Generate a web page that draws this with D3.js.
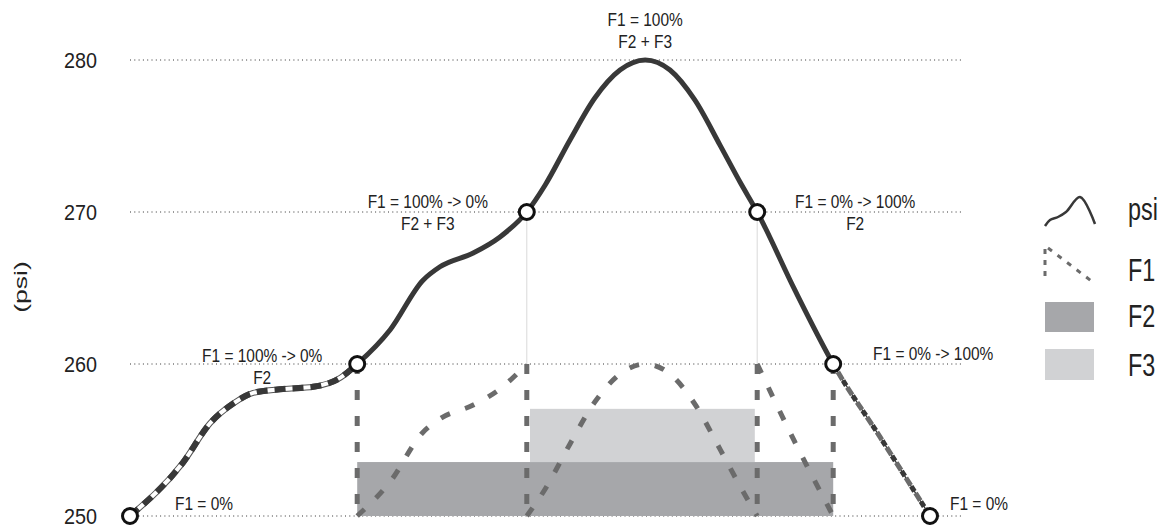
<!DOCTYPE html>
<html>
<head>
<meta charset="utf-8">
<script src="https://cdn.jsdelivr.net/npm/d3@7"></script>
<style>
  body { margin: 0; background: #fff; }
  svg { display: block; font-family: "Liberation Sans", Arial, sans-serif; }
</style>
</head>
<body>
<div id="chart"></div>
<script>
// pressure trace (psi), x in time units
const psiX = [0, 0.66, 1.0, 1.29, 1.54, 1.91, 2.29, 2.63, 2.84, 3.25, 3.66, 3.875, 4.29, 4.625, 4.96,
              5.19, 5.5, 5.81, 6.125, 6.44, 6.75, 7.06, 7.375, 7.625, 7.84, 8.31, 8.79, 9.375, 10];
const psiY = [250, 253.5, 256.1, 257.4, 258.1, 258.35, 258.5, 259.1, 260, 262.24, 265.5, 266.4, 267.3, 268.36, 270,
              271.78, 274.74, 277.5, 279.34, 280, 279.34, 277.37, 274.4, 271.97, 270, 264.87, 260, 255.2, 250];

// switching points (markers) and F1 offset below psi between them
const stageX = [0, 2.84, 4.96, 7.84, 8.79, 10];
const f1Offset = [0, 10, 20, 10, 0];

// F2 / F3 bars: start, end, height (psi above 250)
const f2Bar = [2.84, 8.79, 3.55];
const f3Bar = [5.0, 7.81, 3.5];

const yTicks = [250, 260, 270, 280];
const legendNames = ['psi', 'F1', 'F2', 'F3'];

const labelText = [
    ['F1 = 0%'],
    ['F1 = 100% -> 0%', 'F2'],
    ['F1 = 100% -> 0%', 'F2 + F3'],
    ['F1 = 100%', 'F2 + F3'],
    ['F1 = 0% -> 100%', 'F2'],
    ['F1 = 0% -> 100%'],
    ['F1 = 0%']
];
const labelX = [0, 2.84, 4.96, 6.44, 7.84, 8.79, 10];
const labelY = [250, 260, 270, 280, 270, 260, 250];

let width = 1164;
let height = 527;

const psiColor = '#383838';
const f1Color = '#6b6b6b';
const f2Color = '#a6a7aa';
const f3Color = '#d1d2d4';

let svg = d3.select('#chart').append('svg')
    .attr('width', width)
    .attr('height', height);

const x = d3.scaleLinear().domain([0, 10]).range([130, 930]);
const y = d3.scaleLinear().domain([250, 280]).range([516, 60]);

const psiData = psiX.map((v, i) => ({x: v, y: psiY[i]}));
const line = d3.line().x(d => x(d.x)).y(d => y(d.y)).curve(d3.curveMonotoneX);

function psiAt(v) {
    let i = psiX.indexOf(v);
    return psiY[i];
}

// clip regions
let defs = svg.append('defs');
[['clipL', 0, x(stageX[1])], ['clipM', x(stageX[1]), x(stageX[4])], ['clipR', x(stageX[4]), width]].forEach(c => {
    defs.append('clipPath').attr('id', c[0])
        .append('rect').attr('x', c[1]).attr('y', 0).attr('width', c[2] - c[1]).attr('height', height);
});

//Grid
svg.append('g').selectAll('line')
    .data(yTicks)
    .enter().append('line')
    .attr('x1', x(0)).attr('x2', x(10.41))
    .attr('y1', d => y(d)).attr('y2', d => y(d))
    .attr('stroke', '#333')
    .attr('stroke-width', 1)
    .attr('stroke-dasharray', '1,3.3');

//Tick labels
svg.append('g').selectAll('text')
    .data(yTicks)
    .enter().append('text')
    .attr('transform', d => 'translate(97,' + (y(d) + 8) + ') scale(0.9,1)')
    .attr('text-anchor', 'end')
    .attr('font-size', 22)
    .attr('fill', '#222')
    .text(d => d);

svg.append('text')
    .attr('transform', 'translate(27,287) rotate(-90) scale(1.4,1)')
    .attr('text-anchor', 'middle')
    .attr('font-size', 19)
    .attr('fill', '#222')
    .text('(psi)');

//Bars
svg.append('rect')
    .attr('x', x(f2Bar[0])).attr('width', x(f2Bar[1]) - x(f2Bar[0]))
    .attr('y', y(250 + f2Bar[2])).attr('height', y(250) - y(250 + f2Bar[2]))
    .attr('fill', f2Color);
svg.append('rect')
    .attr('x', x(f3Bar[0])).attr('width', x(f3Bar[1]) - x(f3Bar[0]))
    .attr('y', y(250 + f2Bar[2] + f3Bar[2])).attr('height', y(250 + f2Bar[2]) - y(250 + f2Bar[2] + f3Bar[2]))
    .attr('fill', f3Color);

// thin guides between psi and F1 where they split
[stageX[2], stageX[3]].forEach(v => {
    svg.append('line')
        .attr('x1', x(v)).attr('x2', x(v))
        .attr('y1', y(psiAt(v))).attr('y2', y(psiAt(v) - 10))
        .attr('stroke', '#d9d9d9').attr('stroke-width', 1);
});

//F1 middle parts (dashed grey)
let f1 = svg.append('g')
    .attr('fill', 'none')
    .attr('stroke', f1Color)
    .attr('stroke-width', 5)
    .attr('stroke-dasharray', '10,16');

for (let s = 1; s < f1Offset.length - 1; s++) {
    let seg = psiData.filter(d => d.x >= stageX[s] && d.x <= stageX[s + 1])
        .map(d => ({x: d.x, y: d.y - f1Offset[s]}));
    f1.append('path').attr('d', line(seg));
}
// verticals at stage changes
for (let s = 1; s < stageX.length - 1; s++) {
    let v = stageX[s];
    let top = Math.max(psiAt(v) - f1Offset[s - 1], psiAt(v) - f1Offset[s]);
    let bottom = Math.min(psiAt(v) - f1Offset[s - 1], psiAt(v) - f1Offset[s]);
    f1.append('line')
        .attr('x1', x(v)).attr('x2', x(v))
        .attr('y1', y(top)).attr('y2', y(bottom));
}

//psi line: left part (psi + F1 overlap)
let fullPath = line(psiData);
svg.append('path').attr('d', fullPath).attr('clip-path', 'url(#clipL)')
    .attr('fill', 'none').attr('stroke', '#555').attr('stroke-width', 6);
svg.append('path').attr('d', fullPath).attr('clip-path', 'url(#clipL)')
    .attr('fill', 'none').attr('stroke', '#fff').attr('stroke-width', 4);
svg.append('path').attr('d', fullPath).attr('clip-path', 'url(#clipL)')
    .attr('fill', 'none').attr('stroke', psiColor).attr('stroke-width', 6)
    .attr('stroke-dasharray', '11,7');

//middle part solid
svg.append('path').attr('d', fullPath).attr('clip-path', 'url(#clipM)')
    .attr('fill', 'none').attr('stroke', psiColor).attr('stroke-width', 5);

//right part
svg.append('path').attr('d', fullPath).attr('clip-path', 'url(#clipR)')
    .attr('fill', 'none').attr('stroke', psiColor).attr('stroke-width', 1.3);
svg.append('path').attr('d', fullPath).attr('clip-path', 'url(#clipR)')
    .attr('fill', 'none').attr('stroke', f1Color).attr('stroke-width', 5)
    .attr('stroke-dasharray', '9,9').attr('stroke-dashoffset', -12);
svg.append('path').attr('d', fullPath).attr('clip-path', 'url(#clipR)')
    .attr('fill', 'none').attr('stroke', psiColor).attr('stroke-width', 5)
    .attr('stroke-dasharray', '6,12').attr('stroke-dashoffset', -22);

//Markers
svg.append('g').selectAll('circle')
    .data(stageX)
    .enter().append('circle')
    .attr('cx', d => x(d))
    .attr('cy', d => y(psiAt(d)))
    .attr('r', 7.5)
    .attr('fill', '#fff')
    .attr('stroke', '#111')
    .attr('stroke-width', 3);

//Annotations
const labelDx = [74, -95, -99, 0, 98, 100, 49];
const labelDy = [-6, -2, -4, -34, -4, -4, -6];
let ann = svg.append('g').attr('fill', '#222').attr('font-size', 18).attr('text-anchor', 'middle');
labelText.forEach((lines, i) => {
    lines.forEach((t, j) => {
        ann.append('text')
            .attr('transform', 'translate(' + (x(labelX[i]) + labelDx[i]) + ',' + (y(labelY[i]) + labelDy[i] + j * 22) + ') scale(0.86,1)')
            .text(t);
    });
});

//Legend
let legend = svg.append('g');
const legendBase = [220, 281, 327, 376];
legend.append('path')
    .attr('d', d3.line().curve(d3.curveCatmullRom)([[1045, 226], [1050, 220], [1058, 217], [1066, 212], [1080, 197], [1095, 224]]))
    .attr('fill', 'none').attr('stroke', psiColor).attr('stroke-width', 2.5);
legend.append('line')
    .attr('x1', 1045).attr('x2', 1045).attr('y1', 249).attr('y2', 281)
    .attr('stroke', f1Color).attr('stroke-width', 3).attr('stroke-dasharray', '5,6');
legend.append('line')
    .attr('x1', 1048).attr('x2', 1094).attr('y1', 248).attr('y2', 283)
    .attr('stroke', f1Color).attr('stroke-width', 3).attr('stroke-dasharray', '5,7');
legend.append('rect').attr('x', 1045).attr('y', 302).attr('width', 49).attr('height', 30).attr('fill', f2Color);
legend.append('rect').attr('x', 1045).attr('y', 349).attr('width', 49).attr('height', 31).attr('fill', f3Color);
legend.selectAll('text')
    .data(legendNames)
    .enter().append('text')
    .attr('transform', (d, i) => 'translate(1128,' + legendBase[i] + ') scale(0.73,1)')
    .attr('font-size', 32)
    .attr('fill', '#222')
    .text(d => d);
</script>
</body>
</html>
